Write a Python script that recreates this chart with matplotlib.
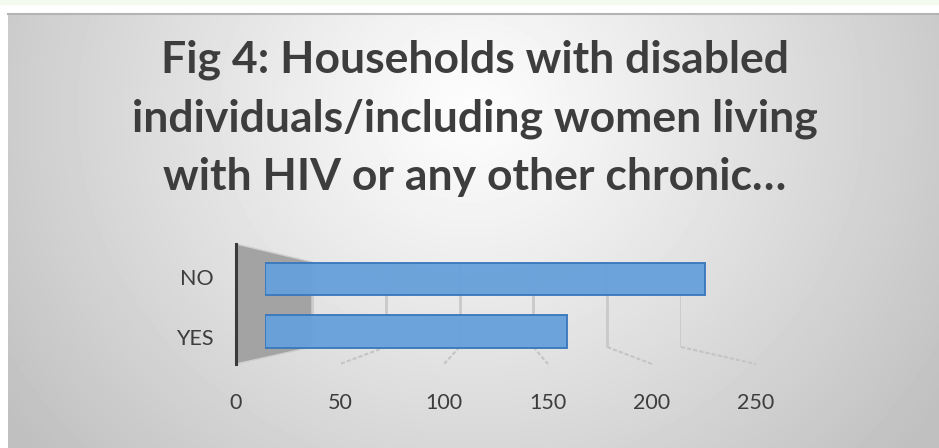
import matplotlib
matplotlib.use("Agg")
import matplotlib.pyplot as plt
import numpy as np
from matplotlib.patches import Polygon, Rectangle
from matplotlib.lines import Line2D
from matplotlib.transforms import IdentityTransform

categories = ["YES", "NO"]
households = [163, 237]
ticks = [0, 50, 100, 150, 200, 250]
title_lines = ["Fig 4: Households with disabled",
               "individuals/including women living",
               "with HIV or any other chronic\u2026"]

plt.rcParams["font.family"] = ["Lato", "DejaVu Sans"]

W, H = 939, 448
TXT = "#3d3d3d"
fig = plt.figure(figsize=(W / 100, H / 100), dpi=100)


def box(x0, y0, x1, y1):
    # pixel box measured from the top-left corner -> axes
    return fig.add_axes([x0 / W, 1 - y1 / H, (x1 - x0) / W, (y1 - y0) / H])


def bare(ax):
    for s in ax.spines.values():
        s.set_visible(False)
    ax.patch.set_alpha(0)
    ax.tick_params(length=0, labelbottom=False, labelleft=False)


# background panel with the soft radial gradient
bg = fig.add_axes([0, 0, 1, 1])
bg.set_zorder(-5)
bg.add_patch(Rectangle((0, 0), W, 4, color="#f3fbf0"))
yy, xx = np.mgrid[13:H, 8:W]
r = np.hypot((xx - 470) / 540, (yy - 110) / 500)
shade = np.clip(253 - 58 * r ** 1.1, 192, 253) / 255
bg.imshow(shade, cmap="gray", vmin=0, vmax=1, extent=(8, W, H, 13),
          aspect="auto", interpolation="bilinear")
bg.plot([8, W], [14, 14], color="#b4b4b4", lw=1.5)
bg.set_xlim(0, W)
bg.set_ylim(H, 0)
bg.axis("off")

# back wall gridlines
back = box(312, 262, 312 + 1.476 * 250, 347)
back.set_xlim(0, 250)
back.set_ylim(0, 1)
back.set_xticks(ticks)
back.set_yticks([])
back.grid(axis="x", color="#c9c9c9", lw=2)
bare(back)

# front plane: axis labels and dark left edge
front = box(236, 244, 236 + 2.08 * 250, 364)
front.set_xlim(0, 250)
front.set_ylim(-0.45, 1.55)
front.set_xticks(ticks)
front.set_yticks(range(len(categories)), labels=categories)
front.patch.set_alpha(0)
for name, s in front.spines.items():
    s.set_visible(name == "left")
front.spines["left"].set_color("#3a3a3a")
front.spines["left"].set_linewidth(2.2)
front.tick_params(axis="x", length=0, pad=21, labelsize=15.5, labelcolor=TXT)
front.tick_params(axis="y", length=0, pad=16, labelsize=15.5, labelcolor=TXT)
front.set_zorder(6)

# side wall between the front and back planes at zero
ident = IdentityTransform()
f_lo, f_hi = front.get_ylim()
wall = [front.transData.transform((0, f_hi)), back.transData.transform((0, 1)),
        back.transData.transform((0, 0)), front.transData.transform((0, f_lo))]
fig.add_artist(Polygon(wall, closed=True, transform=ident, facecolor="#a3a3a3",
                       edgecolor="#cfcfcf", lw=1, zorder=1))

# floor lines joining back gridlines to the front edge
for t in ticks[1:]:
    p0 = back.transData.transform((t, 0))
    p1 = front.transData.transform((t, f_lo))
    fig.add_artist(Line2D([p0[0], p1[0]], [p0[1], p1[1]], transform=ident,
                          color="#c4c4c4", lw=1.5, ls=(0, (2, 1)), zorder=2))

# bars
bars = box(265, 252.75, 265 + 1.855 * 250, 357.75)
bars.set_xlim(0, 250)
bars.set_ylim(-0.5, 1.5)
bars.barh(categories, households, height=0.62, color="#65a0da",
          edgecolor="#3a78bc", lw=1.4, alpha=0.95)
bars.set_ylim(-0.5, 1.5)
bare(bars)
bars.set_xticks([])
bars.set_yticks([])
bars.set_zorder(5)

# title, fitted to the widest line
renderer = fig.canvas.get_renderer()
probe = fig.text(0, 0, title_lines[1], fontsize=30, fontweight="bold")
size = 30 * 685 / probe.get_window_extent(renderer).width
probe.remove()
for line, base in zip(title_lines, [73, 131.5, 190]):
    fig.text(475 / W, 1 - base / H, line, ha="center", va="baseline",
             fontsize=size, fontweight="bold", color=TXT)

fig.savefig("out.png", dpi=100)
